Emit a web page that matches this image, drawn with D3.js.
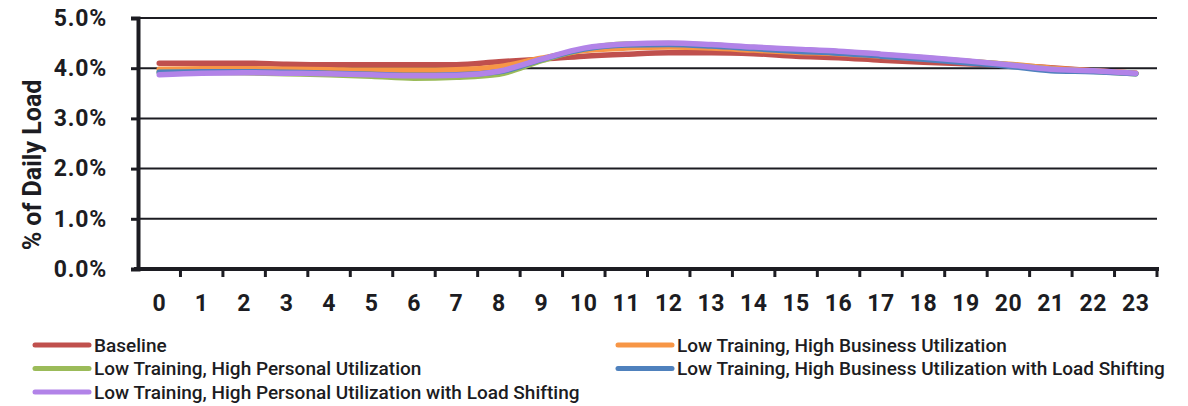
<!DOCTYPE html>
<html>
<head>
<meta charset="utf-8">
<script src="https://cdn.jsdelivr.net/npm/d3@7"></script>
<style>
  body { margin: 0; background: #fff; }
  svg text { font-family: Roboto, "Open Sans", sans-serif; fill: #1c1c22; }
</style>
</head>
<body>
<div id="chart"></div>
<script>
// hours of the day
var hours = d3.range(0, 24).map(String);

// % of daily load per hour
var baseline = [4.10,4.10,4.10,4.08,4.07,4.07,4.07,4.07,4.13,4.18,4.24,4.28,4.31,4.31,4.29,4.24,4.21,4.16,4.12,4.09,4.06,4.01,3.95,3.90];
var lowTrainBusiness = [3.98,3.99,3.99,3.98,3.97,3.96,3.96,3.97,4.03,4.20,4.35,4.40,4.42,4.40,4.36,4.32,4.29,4.24,4.19,4.14,4.08,4.00,3.95,3.90];
var lowTrainPersonal = [3.92,3.92,3.91,3.89,3.87,3.84,3.80,3.82,3.88,4.15,4.38,4.48,4.49,4.46,4.41,4.37,4.33,4.27,4.21,4.14,4.07,3.98,3.94,3.89];
var lowTrainBusinessShift = [3.92,3.93,3.93,3.92,3.90,3.88,3.86,3.87,3.93,4.17,4.38,4.46,4.47,4.44,4.39,4.34,4.30,4.24,4.18,4.11,4.04,3.95,3.93,3.89];
var lowTrainPersonalShift = [3.87,3.90,3.91,3.90,3.89,3.87,3.85,3.86,3.94,4.18,4.40,4.48,4.50,4.47,4.42,4.38,4.34,4.28,4.22,4.15,4.07,3.98,3.95,3.90];

var yTicks = [0, 1, 2, 3, 4, 5];

var series = [
    {name: 'Baseline', values: baseline, color: '#c0504d'},
    {name: 'Low Training, High Business Utilization', values: lowTrainBusiness, color: '#f79646'},
    {name: 'Low Training, High Personal Utilization', values: lowTrainPersonal, color: '#9bbb59'},
    {name: 'Low Training, High Business Utilization with Load Shifting', values: lowTrainBusinessShift, color: '#4f81bd'},
    {name: 'Low Training, High Personal Utilization with Load Shifting', values: lowTrainPersonalShift, color: '#b283e8'}
];

var margin = {top: 18, right: 31, bottom: 137, left: 138},
    totalW = 1188, totalH = 406,
    width = totalW - margin.left - margin.right,
    height = totalH - margin.top - margin.bottom;

var svg = d3.select('#chart')
    .append('svg')
    .attr('width', totalW)
    .attr('height', totalH)
    .append('g')
    .attr('transform', 'translate(' + margin.left + ',' + margin.top + ')');

var x = d3.scaleBand()
    .domain(hours)
    .range([0, width])
    .padding(0);

var y = d3.scaleLinear()
    .domain([0, 5])
    .range([height, 0]);

// gridlines
svg.append('g')
    .selectAll('line')
    .data(yTicks.filter(function(d){ return d > 0; }))
    .enter().append('line')
    .attr('x1', 0)
    .attr('x2', width)
    .attr('y1', function(d){ return y(d); })
    .attr('y2', function(d){ return y(d); })
    .attr('stroke', '#1c1c22')
    .attr('stroke-width', 2);

// y axis
var yAxis = svg.append('g')
    .call(d3.axisLeft(y).tickValues(yTicks).tickSize(7).tickPadding(24)
        .tickFormat(function(d){ return d.toFixed(1) + '%'; }));
yAxis.select('.domain').attr('stroke', '#1c1c22').attr('stroke-width', 4);
yAxis.selectAll('.tick line').attr('stroke', '#1c1c22').attr('stroke-width', 3);
yAxis.selectAll('.tick text')
    .style('font-size', '23px')
    .style('font-weight', 'bold')
    .style('letter-spacing', '0.8px')
    .attr('fill', '#1c1c22');

// x axis ticks sit on band edges
var xAxisG = svg.append('g')
    .attr('transform', 'translate(0,' + height + ')');
xAxisG.append('line')
    .attr('x1', -4).attr('x2', width + 2)
    .attr('stroke', '#1c1c22').attr('stroke-width', 4);
xAxisG.selectAll('line.tk')
    .data(hours.slice(1).concat(['end']))
    .enter().append('line')
    .attr('class', 'tk')
    .attr('x1', function(d){ return d == 'end' ? width : x(d); })
    .attr('x2', function(d){ return d == 'end' ? width : x(d); })
    .attr('y1', 0).attr('y2', 8)
    .attr('stroke', '#1c1c22').attr('stroke-width', 3);
xAxisG.selectAll('text')
    .data(hours)
    .enter().append('text')
    .attr('x', function(d){ return x(d) + x.bandwidth() / 2; })
    .attr('y', 42)
    .attr('text-anchor', 'middle')
    .style('font-size', '23px')
    .style('font-weight', 'bold')
    .style('letter-spacing', '0.5px')
    .text(function(d){ return d; });

svg.append('text')
    .attr('transform', 'rotate(-90)')
    .attr('x', -(165 - margin.top))
    .attr('y', -margin.left + 41)
    .attr('text-anchor', 'middle')
    .style('font-size', '25px')
    .style('font-weight', 'bold')
    .text('% of Daily Load');

var line = d3.line()
    .x(function(d, i){ return x(hours[i]) + x.bandwidth() / 2; })
    .y(function(d){ return y(d); })
    .curve(d3.curveMonotoneX);

svg.append('g')
    .selectAll('path')
    .data(series)
    .enter().append('path')
    .attr('d', function(d){ return line(d.values); })
    .attr('fill', 'none')
    .attr('stroke', function(d){ return d.color; })
    .attr('stroke-width', 5.5)
    .attr('stroke-linecap', 'round')
    .attr('stroke-linejoin', 'round');

// legend, two columns filled row by row
var legend = d3.select('svg').append('g')
    .attr('transform', 'translate(35,345)');
var item = legend.selectAll('g')
    .data(series)
    .enter().append('g')
    .attr('transform', function(d, i){
        return 'translate(' + ((i % 2) * 583) + ',' + (Math.floor(i / 2) * 23.5) + ')';
    });
item.append('line')
    .attr('x1', 0).attr('x2', 54)
    .attr('stroke', function(d){ return d.color; })
    .attr('stroke-width', 5)
    .attr('stroke-linecap', 'round');
item.append('text')
    .attr('x', 59)
    .attr('dy', '0.35em')
    .style('font-size', '19px')
    .style('font-weight', 500)
    .text(function(d){ return d.name; });
</script>
</body>
</html>
